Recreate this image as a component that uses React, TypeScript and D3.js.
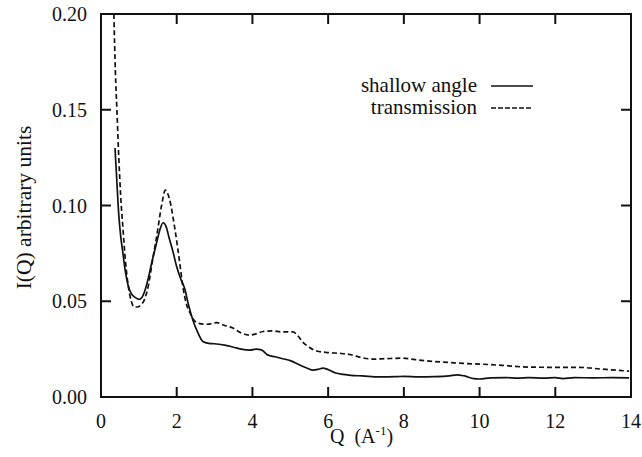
import React from "react";
import * as d3 from "d3";

const shallowQ = [0.37,0.42,0.47,0.52,0.58,0.64,0.72,0.80,0.90,1.00,1.08,1.15,1.25,1.35,1.45,1.55,1.64,1.72,1.80,1.90,2.00,2.10,2.22,2.30,2.43,2.55,2.69,2.85,3.0,3.3,3.5,3.7,3.93,4.1,4.25,4.4,4.6,4.8,5.0,5.25,5.45,5.6,5.75,5.86,6.0,6.2,6.4,6.6,6.9,7.36,7.8,8.0,8.4,8.8,9.2,9.4,9.6,9.85,10.0,10.3,10.7,11.0,11.3,11.7,12.0,12.2,12.5,13.0,13.5,13.95];
const shallowI = [0.130,0.112,0.095,0.084,0.075,0.066,0.058,0.054,0.052,0.051,0.052,0.055,0.062,0.071,0.079,0.087,0.091,0.089,0.083,0.076,0.068,0.062,0.056,0.049,0.040,0.034,0.029,0.028,0.0278,0.0270,0.026,0.025,0.0245,0.025,0.0245,0.022,0.021,0.020,0.019,0.0167,0.0150,0.0140,0.0145,0.0151,0.0143,0.0125,0.0118,0.0113,0.0110,0.0105,0.0106,0.0108,0.0105,0.0106,0.0110,0.0116,0.0110,0.0096,0.0094,0.0100,0.0101,0.0099,0.0101,0.0099,0.0101,0.0096,0.0101,0.0100,0.0101,0.0100];

const transQ = [0.34,0.38,0.42,0.47,0.52,0.58,0.65,0.72,0.80,0.88,0.95,1.05,1.15,1.25,1.35,1.48,1.60,1.70,1.80,1.95,2.08,2.16,2.25,2.35,2.46,2.56,2.8,3.06,3.25,3.48,3.7,3.93,4.1,4.28,4.5,4.8,5.07,5.2,5.33,5.5,5.7,6.0,6.3,6.57,6.9,7.18,7.5,7.97,8.3,8.68,9.2,9.6,10.0,10.6,11.3,12.0,12.6,13.2,13.95];
const transI = [0.200,0.170,0.150,0.125,0.105,0.088,0.070,0.058,0.050,0.047,0.047,0.048,0.051,0.058,0.070,0.085,0.100,0.108,0.104,0.088,0.070,0.058,0.049,0.044,0.040,0.0385,0.0380,0.0388,0.0375,0.036,0.0335,0.0323,0.033,0.0342,0.0345,0.0340,0.0340,0.0320,0.0287,0.0260,0.0240,0.0232,0.0228,0.0222,0.0205,0.0198,0.0200,0.0203,0.0195,0.0187,0.0180,0.0175,0.0172,0.0165,0.0156,0.0155,0.0155,0.0146,0.0135];

const xTicks = [0, 2, 4, 6, 8, 10, 12, 14];
const yTicks = [0, 0.05, 0.1, 0.15, 0.2];
const legendLabels = ["shallow angle", "transmission"];

const W = 642, H = 457;
const L = 101, R = 631, T = 14, B = 397;
const FONT = '"Liberation Serif"';

export default function App() {
  const x = d3.scaleLinear().domain([0, 14]).range([L, R]);
  const y = d3.scaleLinear().domain([0, 0.2]).range([B, T]);
  const line = d3.line<[number, number]>().x(d => x(d[0])).y(d => y(d[1])).curve(d3.curveMonotoneX);
  const solid = shallowQ.map((q, i) => [q, shallowI[i]] as [number, number]);
  const dashed = transQ.map((q, i) => [q, transI[i]] as [number, number]);
  const tl = 10;
  const ts = (size: number) => ({ fontFamily: FONT, fontSize: size, fill: "#111" });
  return (
    <svg width={W} height={H} style={{ position: "absolute", left: 0, top: 0, background: "#fff" }}>
      <rect x={0} y={0} width={W} height={H} fill="#fff" />
      <path d={line(solid) || ""} fill="none" stroke="#111" strokeWidth={1.7} />
      <path d={line(dashed) || ""} fill="none" stroke="#111" strokeWidth={1.7} strokeDasharray="5,3" />
      <rect x={L} y={T} width={R - L} height={B - T} fill="none" stroke="#111" strokeWidth={2} />
      {xTicks.filter(t => t > 0 && t < 14).map(t => (
        <g key={"xt" + t}>
          <line x1={x(t)} x2={x(t)} y1={B} y2={B - tl} stroke="#111" strokeWidth={2} />
          <line x1={x(t)} x2={x(t)} y1={T} y2={T + tl} stroke="#111" strokeWidth={2} />
        </g>
      ))}
      {yTicks.filter(t => t > 0 && t < 0.2).map(t => (
        <g key={"yt" + t}>
          <line x1={L} x2={L + tl} y1={y(t)} y2={y(t)} stroke="#111" strokeWidth={2} />
          <line x1={R} x2={R - tl} y1={y(t)} y2={y(t)} stroke="#111" strokeWidth={2} />
        </g>
      ))}
      {xTicks.map(t => (
        <text key={"xl" + t} x={x(t)} y={428} textAnchor="middle" style={ts(20)}>{t}</text>
      ))}
      {yTicks.map(t => (
        <text key={"yl" + t} x={87} y={y(t) + 7} textAnchor="end" style={ts(20)}>{t.toFixed(2)}</text>
      ))}
      <text x={330} y={443} style={ts(20)}>
        Q{"\u00a0\u00a0"}(A<tspan dy={-8} style={{ fontSize: 13 }}>-1</tspan><tspan dy={8}>)</tspan>
      </text>
      <text transform={`translate(31,${(122 + 293) / 2}) rotate(-90)`} textAnchor="middle" style={ts(21.5)}>I(Q) arbitrary units</text>
      <text x={477} y={92} textAnchor="end" style={ts(21)}>{legendLabels[0]}</text>
      <text x={477} y={114} textAnchor="end" style={ts(21)}>{legendLabels[1]}</text>
      <line x1={491} x2={533} y1={86} y2={86} stroke="#111" strokeWidth={1.3} />
      <line x1={491} x2={533} y1={108} y2={108} stroke="#111" strokeWidth={1.3} strokeDasharray="5,2" />
    </svg>
  );
}
